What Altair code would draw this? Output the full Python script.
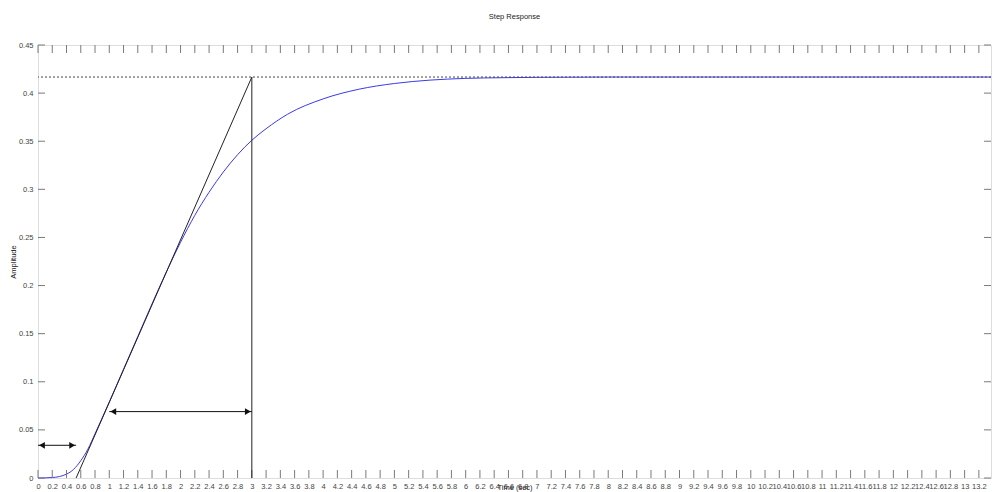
import altair as alt
import pandas as pd

# Step response samples (time in s, amplitude)
t_vals = [0, 0.2, 0.4, 0.5, 0.6, 0.7, 0.8, 1.0, 1.2, 1.4, 1.6, 1.8, 2.0, 2.2, 2.4,
          2.6, 2.8, 3.0, 3.2, 3.5, 4.0, 4.5, 5.0, 5.5, 6.0, 6.5, 7.0, 8.0, 10.0, 13.37]
amp_vals = [0, 0.0005, 0.004, 0.009, 0.018, 0.030, 0.046, 0.079, 0.113, 0.147, 0.181,
            0.214, 0.245, 0.273, 0.297, 0.318, 0.336, 0.351, 0.363, 0.378, 0.394,
            0.404, 0.410, 0.4135, 0.4153, 0.416, 0.4164, 0.4167, 0.4167, 0.4167]

final_value = 0.4167
# Tangent construction: crosses zero at the dead time, reaches the final value at t = 3
tangent_t = [0.535, 3.0]
tangent_y = [0.0, final_value]
# Dimension arrows: (start, end, height)
arrow_start = [0.0, 1.0]
arrow_end = [0.535, 3.0]
arrow_y = [0.034, 0.069]

x_ticks = [round(0.2 * i, 1) for i in range(67)]
y_ticks = [0, 0.05, 0.1, 0.15, 0.2, 0.25, 0.3, 0.35, 0.4, 0.45]
x_max = 13.37
y_max = 0.45

W, H = 953, 433
FONT = "Liberation Sans"
GRAY = "#7a7a7a"
LABEL = "#444444"

xs = alt.Scale(domain=[0, x_max], nice=False, zero=False)
ys = alt.Scale(domain=[0, y_max], nice=False, zero=False)

# Shared axis definitions (labels and titles only; tick marks are drawn as rules)
x_axis = alt.Axis(values=x_ticks, format="~g", ticks=False, domain=False,
                  grid=False, labelOverlap=False, labelFontSize=7.5,
                  labelColor=LABEL, labelPadding=4, labelFont=FONT,
                  labelBound=False, labelFlush=False,
                  titleFont=FONT, titleFontSize=7.5, titleFontWeight="normal",
                  titleColor="#222222", titlePadding=-6)
y_axis = alt.Axis(values=y_ticks, format="~g", ticks=False, domain=False,
                  grid=False, labelOverlap=False, labelFontSize=7.5,
                  labelColor=LABEL, labelPadding=5, labelFont=FONT,
                  titleFont=FONT, titleFontSize=7.5, titleFontWeight="normal",
                  titleColor="#222222", titlePadding=1)


def X(field):
    return alt.X(field, scale=xs, axis=x_axis, title="Time (sec)")


def Y(field):
    return alt.Y(field, scale=ys, axis=y_axis, title="Amplitude")


curve_df = pd.DataFrame({"t": t_vals, "a": amp_vals})
tan_df = pd.DataFrame({"t": tangent_t, "a": tangent_y})
arr_df = pd.DataFrame({"x1": arrow_start, "x2": arrow_end, "y": arrow_y})
xt_df = pd.DataFrame({"t": x_ticks})
yt_df = pd.DataFrame({"a": y_ticks})

curve = alt.Chart(curve_df).mark_line(color="#3a3ae8", strokeWidth=1, interpolate="monotone").encode(
    x=X("t:Q"), y=Y("a:Q"))

final_line = alt.Chart(pd.DataFrame({"a": [final_value]})).mark_rule(
    color="#444444", strokeDash=[2, 2], strokeWidth=1).encode(y=Y("a:Q"))

tangent = alt.Chart(tan_df).mark_line(color="#222222", strokeWidth=1).encode(
    x=X("t:Q"), y=Y("a:Q"))

drop = alt.Chart(pd.DataFrame({"t": [tangent_t[1]], "a0": [0.0], "a1": [final_value]})).mark_rule(
    color="#222222", strokeWidth=1).encode(x=X("t:Q"), y=Y("a0:Q"), y2="a1:Q")

arrow_shaft = alt.Chart(arr_df).mark_rule(color="#111111", strokeWidth=1).encode(
    x=X("x1:Q"), x2="x2:Q", y=Y("y:Q"))
head_left = alt.Chart(arr_df).mark_point(
    shape="triangle-left", filled=True, color="#111111", size=45, opacity=1, xOffset=4).encode(
    x=X("x1:Q"), y=Y("y:Q"))
head_right = alt.Chart(arr_df).mark_point(
    shape="triangle-right", filled=True, color="#111111", size=45, opacity=1, xOffset=-4).encode(
    x=X("x2:Q"), y=Y("y:Q"))

# Inward-pointing tick marks on all four sides
tick_style = dict(color=GRAY, strokeWidth=1)
xt_bottom = alt.Chart(xt_df).mark_rule(**tick_style).encode(
    x=X("t:Q"), y=alt.value(H), y2=alt.value(H - 8))
xt_top = alt.Chart(xt_df).mark_rule(**tick_style).encode(
    x=X("t:Q"), y=alt.value(0), y2=alt.value(8))
yt_left = alt.Chart(yt_df).mark_rule(**tick_style).encode(
    y=Y("a:Q"), x=alt.value(0), x2=alt.value(7))
yt_right = alt.Chart(yt_df).mark_rule(**tick_style).encode(
    y=Y("a:Q"), x=alt.value(W), x2=alt.value(W - 7))

chart = alt.layer(
    curve, xt_bottom, xt_top, yt_left, yt_right, final_line,
    tangent, drop, arrow_shaft, head_left, head_right,
).properties(
    width=W, height=H,
    title=alt.Title("Step Response", fontSize=7.5, font=FONT, fontWeight="normal",
                    color="#222222", offset=21),
    autosize=alt.AutoSizeParams(type="none"),
    padding={"left": 38, "top": 45, "right": 4, "bottom": 14},
).configure_view(
    stroke=GRAY, strokeWidth=1
).configure(background="white")

chart.save("out.html", embed_options={"renderer": "svg", "actions": False})
